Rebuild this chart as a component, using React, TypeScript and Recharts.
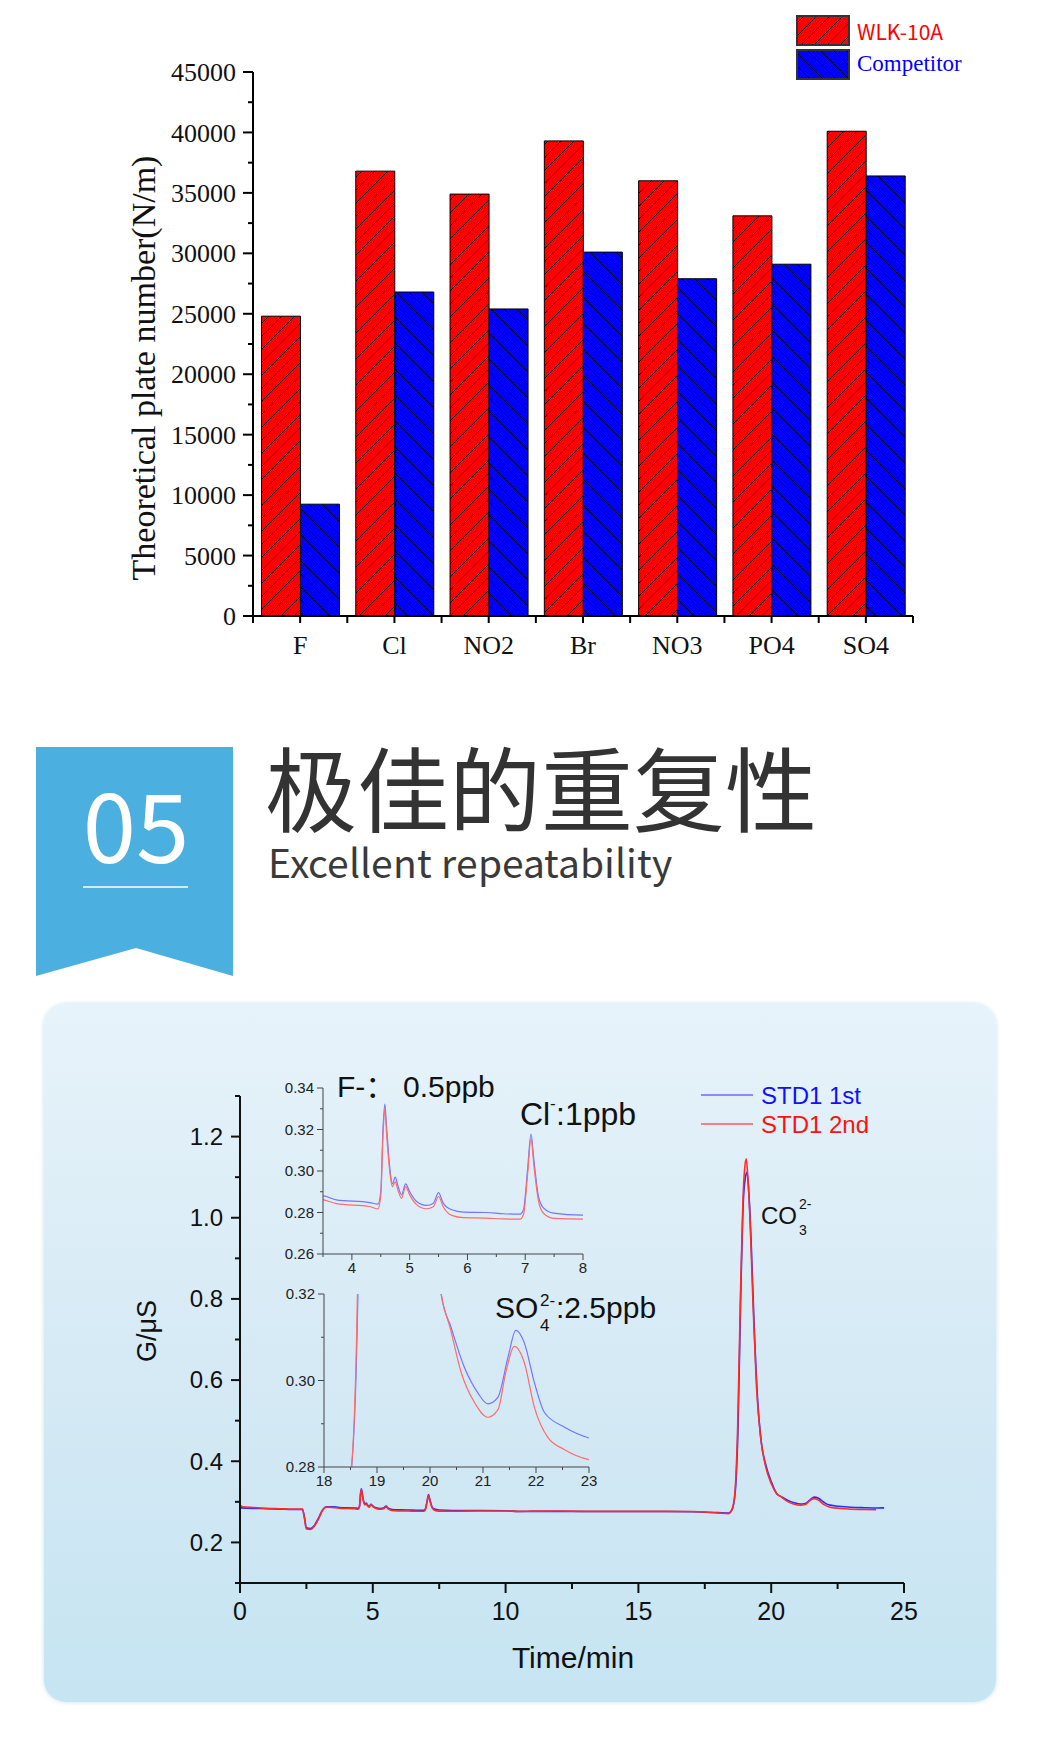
import React from 'react';
import { BarChart, Bar, XAxis, YAxis, LineChart, Line, Legend } from 'recharts';

// ---------- Chart 1: theoretical plate number ----------
const ions = ['F', 'Cl', 'NO2', 'Br', 'NO3', 'PO4', 'SO4'];
const wlk10a = [24800, 36800, 34900, 39300, 36000, 33100, 40100];
const competitor = [9250, 26800, 25400, 30100, 27900, 29100, 36400];
const plateTicks = [0, 2500, 5000, 7500, 10000, 12500, 15000, 17500, 20000, 22500, 25000, 27500, 30000, 32500, 35000, 37500, 40000, 42500, 45000];

// ---------- Chart 2: repeatability chromatogram ----------
const std1Time = [0, 0.5, 1, 1.5, 2, 2.35, 2.42, 2.5, 2.65, 2.8, 2.95, 3.1, 3.25, 3.5, 3.73, 4.31, 4.45, 4.5, 4.54, 4.57, 4.6, 4.66, 4.7, 4.75, 4.8, 4.86, 4.93, 5.0, 5.12, 5.29, 5.41, 5.5, 5.58, 5.73, 5.93, 6.33, 6.62, 6.91, 6.97, 7.04, 7.1, 7.15, 7.23, 7.32, 7.49, 8.0, 9.0, 10.0, 10.5, 11, 12, 13, 14, 15, 16, 17, 18, 18.4, 18.52, 18.64, 18.75, 18.85, 18.95, 19.02, 19.09, 19.16, 19.24, 19.36, 19.49, 19.62, 19.8, 20.0, 20.21, 20.4, 20.65, 20.9, 21.09, 21.28, 21.47, 21.62, 21.78, 21.97, 22.16, 22.54, 23.0, 23.5, 24.0, 24.25];
const std1Signal = [0.285, 0.284, 0.283, 0.282, 0.281, 0.281, 0.265, 0.236, 0.234, 0.242, 0.259, 0.279, 0.288, 0.288, 0.2861, 0.2848, 0.284, 0.29, 0.3213, 0.3322, 0.3213, 0.3005, 0.2938, 0.297, 0.2925, 0.2885, 0.2938, 0.29, 0.2853, 0.2834, 0.2845, 0.2896, 0.2845, 0.2813, 0.2802, 0.28, 0.2794, 0.2792, 0.2813, 0.3005, 0.3178, 0.3053, 0.2877, 0.2821, 0.2797, 0.2787, 0.2785, 0.278, 0.276, 0.2765, 0.2765, 0.276, 0.276, 0.276, 0.276, 0.2755, 0.2735, 0.2725, 0.28, 0.32, 0.48, 0.8, 1.04, 1.095, 1.112, 1.06, 0.95, 0.73, 0.55, 0.45, 0.39, 0.35, 0.32, 0.3122, 0.303, 0.2972, 0.2946, 0.2961, 0.3053, 0.3116, 0.3087, 0.2995, 0.2926, 0.2892, 0.2867, 0.2855, 0.2848, 0.285];
const std2Time = [0, 0.1, 0.5, 1, 1.5, 2, 2.35, 2.42, 2.5, 2.65, 2.8, 2.95, 3.1, 3.25, 3.5, 3.73, 4.31, 4.45, 4.5, 4.54, 4.57, 4.6, 4.66, 4.7, 4.75, 4.8, 4.86, 4.93, 5.0, 5.12, 5.29, 5.41, 5.5, 5.58, 5.73, 5.93, 6.33, 6.62, 6.91, 6.97, 7.04, 7.1, 7.15, 7.23, 7.32, 7.49, 8.0, 9.0, 10.0, 10.5, 11, 12, 13, 14, 15, 16, 17, 18, 18.4, 18.52, 18.63, 18.74, 18.84, 18.94, 19.0, 19.06, 19.12, 19.2, 19.32, 19.45, 19.6, 19.78, 20.0, 20.21, 20.38, 20.59, 20.84, 21.09, 21.28, 21.43, 21.59, 21.78, 21.97, 22.22, 22.54, 23.0, 23.5, 23.95];
const std2Signal = [0.292, 0.288, 0.286, 0.284, 0.283, 0.282, 0.282, 0.262, 0.233, 0.232, 0.24, 0.257, 0.278, 0.287, 0.2862, 0.2843, 0.2829, 0.2817, 0.288, 0.318, 0.3301, 0.318, 0.2985, 0.2925, 0.2948, 0.2905, 0.2868, 0.2925, 0.2885, 0.2838, 0.2818, 0.2828, 0.2877, 0.2828, 0.2786, 0.2775, 0.2773, 0.2769, 0.2768, 0.279, 0.298, 0.3155, 0.3025, 0.2855, 0.2795, 0.2772, 0.2768, 0.2775, 0.2775, 0.2765, 0.277, 0.2775, 0.2765, 0.2765, 0.2765, 0.2765, 0.276, 0.2725, 0.271, 0.28, 0.32, 0.49, 0.8, 1.05, 1.12, 1.145, 1.1, 1.0, 0.78, 0.58, 0.46, 0.39, 0.345, 0.32, 0.3122, 0.3018, 0.2949, 0.2915, 0.2932, 0.3018, 0.3079, 0.3041, 0.2938, 0.2869, 0.284, 0.2817, 0.281, 0.2805];
const timeTicks = [0, 2.5, 5, 7.5, 10, 12.5, 15, 17.5, 20, 22.5, 25];
const signalTicks = [0.1, 0.2, 0.3, 0.4, 0.5, 0.6, 0.7, 0.8, 0.9, 1.0, 1.1, 1.2, 1.3];
const inset1TimeTicks = [3.5, 4, 4.5, 5, 5.5, 6, 6.5, 7, 7.5, 8];
const inset1SignalTicks = [0.26, 0.27, 0.28, 0.29, 0.3, 0.31, 0.32, 0.33, 0.34];
const inset2TimeTicks = [18, 18.5, 19, 19.5, 20, 20.5, 21, 21.5, 22, 22.5, 23];
const inset2SignalTicks = [0.28, 0.29, 0.3, 0.31, 0.32];

const barData = ions.map((ion, i) => ({ ion, wlk: wlk10a[i], comp: competitor[i] }));
const std1Data = std1Time.map((t, i) => ({ t, v: std1Signal[i] }));
const std2Data = std2Time.map((t, i) => ({ t, v: std2Signal[i] }));

const SERIF = '"Liberation Serif", "Times New Roman", serif';
const SANS = '"Liberation Sans", Arial, sans-serif';
const CJK = '"Noto Sans CJK SC", "Noto Sans", sans-serif';
const TITLE = '"TitleCJK", "Noto Sans CJK SC", "Noto Sans", sans-serif';

const fontCss = `@font-face {
  font-family: "TitleCJK";
  src: local("NotoSansCJKsc-Regular"), local("Noto Sans CJK SC Regular"), local("Noto Sans CJK SC");
  ascent-override: 88%;
  descent-override: 12%;
  line-gap-override: 0%;
}`;

type TickCfg = {
  size: number;
  minorSize: number;
  margin: number;
  isMajor: (v: number) => boolean;
  format: (v: number) => string;
  fontFamily: string;
  fontSize: number;
  color: string;
  stroke: string;
  strokeWidth: number;
};

const makeLeftTick = (c: TickCfg) => (props: any) => {
  const { x, y, payload } = props;
  const v = payload.value;
  const ax = x + c.size + c.margin;
  const major = c.isMajor(v);
  return (
    <g>
      <line x1={ax - (major ? c.size : c.minorSize)} x2={ax} y1={y} y2={y} stroke={c.stroke} strokeWidth={c.strokeWidth} />
      {major && (
        <text x={x} y={y} dy="0.35em" textAnchor="end" fill={c.color} fontFamily={c.fontFamily} fontSize={c.fontSize}>
          {c.format(v)}
        </text>
      )}
    </g>
  );
};

const makeBottomTick = (c: TickCfg) => (props: any) => {
  const { x, y, payload } = props;
  const v = payload.value;
  const ay = y - c.size - c.margin;
  const major = c.isMajor(v);
  return (
    <g>
      <line x1={x} x2={x} y1={ay} y2={ay + (major ? c.size : c.minorSize)} stroke={c.stroke} strokeWidth={c.strokeWidth} />
      {major && (
        <text x={x} y={y} dy="0.71em" textAnchor="middle" fill={c.color} fontFamily={c.fontFamily} fontSize={c.fontSize}>
          {c.format(v)}
        </text>
      )}
    </g>
  );
};

const plateYTick = makeLeftTick({
  size: 10, minorSize: 5, margin: 7,
  isMajor: (v) => v % 5000 === 0,
  format: (v) => String(v),
  fontFamily: SERIF, fontSize: 26, color: '#111', stroke: '#000', strokeWidth: 2,
});

const BAND_HALF = (660 / 7) / 2;
const IonTick = (props: any) => {
  const { x, y, payload, index } = props;
  const half = (payload && payload.offset) || BAND_HALF;
  const ay = y - 7 - 13;
  return (
    <g>
      <line x1={x} x2={x} y1={ay} y2={ay + 7} stroke="#000" strokeWidth={2} />
      <line x1={x - half} x2={x - half} y1={ay} y2={ay + 7} stroke="#000" strokeWidth={2} />
      {index === ions.length - 1 && <line x1={x + half} x2={x + half} y1={ay} y2={ay + 7} stroke="#000" strokeWidth={2} />}
      <text x={x} y={y} dy="0.71em" textAnchor="middle" fill="#111" fontFamily={SERIF} fontSize={26}>
        {payload.value}
      </text>
    </g>
  );
};

const mainYTick = makeLeftTick({
  size: 9, minorSize: 5, margin: 8,
  isMajor: (v) => Math.round(v * 10) % 2 === 0,
  format: (v) => v.toFixed(1),
  fontFamily: SANS, fontSize: 24, color: '#111', stroke: '#111', strokeWidth: 2,
});
const mainXTick = makeBottomTick({
  size: 10, minorSize: 6, margin: 9,
  isMajor: (v) => v % 5 === 0,
  format: (v) => String(v),
  fontFamily: SANS, fontSize: 25, color: '#111', stroke: '#111', strokeWidth: 2,
});
const insetYTick = makeLeftTick({
  size: 6, minorSize: 3, margin: 3,
  isMajor: (v) => Math.round(v * 100) % 2 === 0,
  format: (v) => v.toFixed(2),
  fontFamily: SANS, fontSize: 15, color: '#222', stroke: '#444', strokeWidth: 1,
});
const insetXTick = makeBottomTick({
  size: 6, minorSize: 3, margin: 2,
  isMajor: (v) => Number.isInteger(v),
  format: (v) => String(v),
  fontFamily: SANS, fontSize: 15, color: '#222', stroke: '#444', strokeWidth: 1,
});

const BarLegend = () => (
  <svg width={230} height={75}>
    <defs>
      <pattern id="lgRed" patternUnits="userSpaceOnUse" width="13" height="13">
        <rect width="13" height="13" fill="#ff0000" />
        <path d="M-3,3 L3,-3 M0,13 L13,0 M10,16 L16,10" stroke="#000" strokeWidth="1" />
      </pattern>
      <pattern id="lgBlue" patternUnits="userSpaceOnUse" width="13" height="13">
        <rect width="13" height="13" fill="#0000ff" />
        <path d="M-3,10 L3,16 M0,0 L13,13 M10,-3 L16,3" stroke="#000" strokeWidth="1" />
      </pattern>
    </defs>
    <rect x={2} y={4} width={52} height={29} fill="url(#lgRed)" stroke="#333" strokeWidth={2} />
    <rect x={2} y={38} width={52} height={29} fill="url(#lgBlue)" stroke="#333" strokeWidth={2} />
    <text x={62} y={28} fill="#ff0000" fontFamily={CJK} fontSize={21}>WLK-10A</text>
    <text x={62} y={59} fill="#0000ff" fontFamily={SERIF} fontSize={23}>Competitor</text>
  </svg>
);

const LineLegend = () => (
  <svg width={200} height={62}>
    <line x1={5} x2={57} y1={15} y2={15} stroke="#6a6aff" strokeWidth={1.5} />
    <line x1={5} x2={57} y1={44} y2={44} stroke="#ff5a5a" strokeWidth={1.5} />
    <text x={65} y={24} fill="#1010ff" fontFamily={SANS} fontSize={24}>STD1 1st</text>
    <text x={65} y={53} fill="#ff1010" fontFamily={SANS} fontSize={24}>STD1 2nd</text>
  </svg>
);

export default function App() {
  return (
    <div style={{ position: 'absolute', left: 0, top: 0, width: 1040, height: 1755, background: '#fff', overflow: 'hidden' }}>
      <style>{fontCss}</style>
      {/* Chart 1 */}
      <div style={{ position: 'absolute', left: 0, top: 0 }}>
        <BarChart width={1040} height={680} data={barData} margin={{ top: 72, right: 127, bottom: 14, left: 153 }} barCategoryGap="9%" barGap={0}>
          <defs>
            <pattern id="hatchRed" patternUnits="userSpaceOnUse" width="13" height="13">
              <rect width="13" height="13" fill="#ff0000" />
              <path d="M-3,3 L3,-3 M0,13 L13,0 M10,16 L16,10" stroke="#000" strokeWidth="1" />
            </pattern>
            <pattern id="hatchBlue" patternUnits="userSpaceOnUse" width="13" height="13">
              <rect width="13" height="13" fill="#0000ff" />
              <path d="M-3,10 L3,16 M0,0 L13,13 M10,-3 L16,3" stroke="#000" strokeWidth="1" />
            </pattern>
          </defs>
          <XAxis dataKey="ion" height={50} interval={0} tickSize={7} tickMargin={13} tickLine={false}
            axisLine={{ stroke: '#000', strokeWidth: 2 }} tick={IonTick} />
          <YAxis width={100} domain={[0, 45000]} ticks={plateTicks} interval={0} tickSize={10} tickMargin={7}
            tickLine={false} axisLine={{ stroke: '#000', strokeWidth: 2 }} tick={plateYTick} />
          <Bar dataKey="wlk" name="WLK-10A" fill="url(#hatchRed)" stroke="#000" strokeWidth={1} isAnimationActive={false} />
          <Bar dataKey="comp" name="Competitor" fill="url(#hatchBlue)" stroke="#000" strokeWidth={1} isAnimationActive={false} />
          <Legend layout="horizontal" verticalAlign="middle" align="center" content={BarLegend}
            wrapperStyle={{ left: 795, top: 12, width: 230, height: 75 }} />
        </BarChart>
      </div>

      {/* Section header */}
      <svg width={1040} height={260} style={{ position: 'absolute', left: 0, top: 730 }}>
        <polygon points="36,17 233,17 233,246 136,218 36,246" fill="#4bb0df" />
        <text x={136} y={133} textAnchor="middle" fill="#fff" fontFamily={CJK} fontSize={96}>05</text>
        <line x1={83} x2={188} y1={157} y2={157} stroke="#fff" strokeWidth={1.5} />
        <text x={265} y={95} fill="#333" fontFamily={TITLE} fontSize={92}>极佳的重复性</text>
        <text x={268} y={148} fill="#3a3a3a" fontFamily={TITLE} fontSize={39}>Excellent repeatability</text>
      </svg>

      {/* Panel background */}
      <div style={{ position: 'absolute', left: 44, top: 1004, width: 952, height: 698, borderRadius: 22,
        background: 'linear-gradient(180deg, #e7f3fa 0%, #d6eaf5 50%, #c6e4f2 100%)', boxShadow: '0 0 4px rgba(170,210,232,0.7)' }} />

      {/* Main chromatogram */}
      <div style={{ position: 'absolute', left: 0, top: 1004 }}>
        <LineChart width={1040} height={700} margin={{ top: 92, right: 136, bottom: 81, left: 180 }}>
          <XAxis type="number" dataKey="t" domain={[0, 25]} ticks={timeTicks} interval={0} allowDataOverflow height={40}
            tickSize={10} tickMargin={9} tickLine={false} axisLine={{ stroke: '#111', strokeWidth: 2 }} tick={mainXTick} />
          <YAxis type="number" domain={[0.1, 1.3]} ticks={signalTicks} interval={0} allowDataOverflow width={60}
            tickSize={9} tickMargin={8} tickLine={false} axisLine={{ stroke: '#111', strokeWidth: 2 }} tick={mainYTick} />
          <Line data={std1Data} dataKey="v" name="STD1 1st" type="monotone" stroke="#2b2bff" strokeWidth={1.6} dot={false} isAnimationActive={false} />
          <Line data={std2Data} dataKey="v" name="STD1 2nd" type="monotone" stroke="#ff2b2b" strokeWidth={1.6} dot={false} isAnimationActive={false} />
          <Legend layout="horizontal" verticalAlign="middle" align="center" content={LineLegend}
            wrapperStyle={{ left: 696, top: 76, width: 200, height: 62 }} />
        </LineChart>
      </div>

      {/* Inset 1: 3.5 - 8 min */}
      <div style={{ position: 'absolute', left: 250, top: 1060 }}>
        <LineChart width={360} height={230} margin={{ top: 28, right: 27, bottom: 6, left: 28 }}>
          <XAxis type="number" dataKey="t" domain={[3.5, 8]} ticks={inset1TimeTicks} interval={0} allowDataOverflow height={30}
            tickSize={6} tickMargin={2} tickLine={false} axisLine={{ stroke: '#444', strokeWidth: 1 }} tick={insetXTick} />
          <YAxis type="number" domain={[0.26, 0.34]} ticks={inset1SignalTicks} interval={0} allowDataOverflow width={45}
            tickSize={6} tickMargin={3} tickLine={false} axisLine={{ stroke: '#444', strokeWidth: 1 }} tick={insetYTick} />
          <Line data={std1Data} dataKey="v" type="monotone" stroke="#7474ff" strokeWidth={1.2} dot={false} isAnimationActive={false} />
          <Line data={std2Data} dataKey="v" type="monotone" stroke="#ff6c6c" strokeWidth={1.2} dot={false} isAnimationActive={false} />
        </LineChart>
      </div>

      {/* Inset 2: 18 - 23 min */}
      <div style={{ position: 'absolute', left: 250, top: 1270 }}>
        <LineChart width={360} height={230} margin={{ top: 24, right: 21, bottom: 3, left: 29 }}>
          <XAxis type="number" dataKey="t" domain={[18, 23]} ticks={inset2TimeTicks} interval={0} allowDataOverflow height={30}
            tickSize={6} tickMargin={2} tickLine={false} axisLine={{ stroke: '#444', strokeWidth: 1 }} tick={insetXTick} />
          <YAxis type="number" domain={[0.28, 0.32]} ticks={inset2SignalTicks} interval={0} allowDataOverflow width={45}
            tickSize={6} tickMargin={3} tickLine={false} axisLine={{ stroke: '#444', strokeWidth: 1 }} tick={insetYTick} />
          <Line data={std1Data} dataKey="v" type="monotone" stroke="#7474ff" strokeWidth={1.2} dot={false} isAnimationActive={false} />
          <Line data={std2Data} dataKey="v" type="monotone" stroke="#ff6c6c" strokeWidth={1.2} dot={false} isAnimationActive={false} />
        </LineChart>
      </div>

      {/* Text overlay */}
      <svg width={1040} height={1755} style={{ position: 'absolute', left: 0, top: 0, pointerEvents: 'none' }}>
        {/* chart 1 axis title */}
        <text x={155} y={368} transform="rotate(-90 155 368)" textAnchor="middle" fill="#111" fontFamily={SERIF} fontSize={34}>
          Theoretical plate number(N/m)
        </text>

        {/* chromatogram axis titles */}
        <text x={156} y={1331} transform="rotate(-90 156 1331)" textAnchor="middle" fill="#111" fontFamily={SANS} fontSize={27}>G/μS</text>
        <text x={573} y={1668} textAnchor="middle" fill="#111" fontFamily={SANS} fontSize={30}>Time/min</text>

        {/* peak annotations */}
        <text y={1097} fill="#111" fontFamily={SANS} fontSize={30}>
          <tspan x={337}>F-</tspan>
          <tspan fontFamily={CJK}>：</tspan>
          <tspan x={403}>0.5ppb</tspan>
        </text>
        <text y={1125} fill="#111" fontFamily={SANS} fontSize={32}>
          <tspan x={520}>Cl</tspan>
          <tspan x={550} y={1109} fontSize={17}>-</tspan>
          <tspan x={556} y={1125}>:1ppb</tspan>
        </text>
        <text y={1318} fill="#111" fontFamily={SANS} fontSize={30}>
          <tspan x={495}>SO</tspan>
          <tspan x={540} y={1306} fontSize={17}>2-</tspan>
          <tspan x={540} y={1331} fontSize={17}>4</tspan>
          <tspan x={556} y={1318}>:2.5ppb</tspan>
        </text>
        <text y={1224} fill="#111" fontFamily={SANS} fontSize={24}>
          <tspan x={761}>CO</tspan>
          <tspan x={799} y={1209} fontSize={14}>2-</tspan>
          <tspan x={799} y={1235} fontSize={14}>3</tspan>
        </text>
      </svg>
    </div>
  );
}
